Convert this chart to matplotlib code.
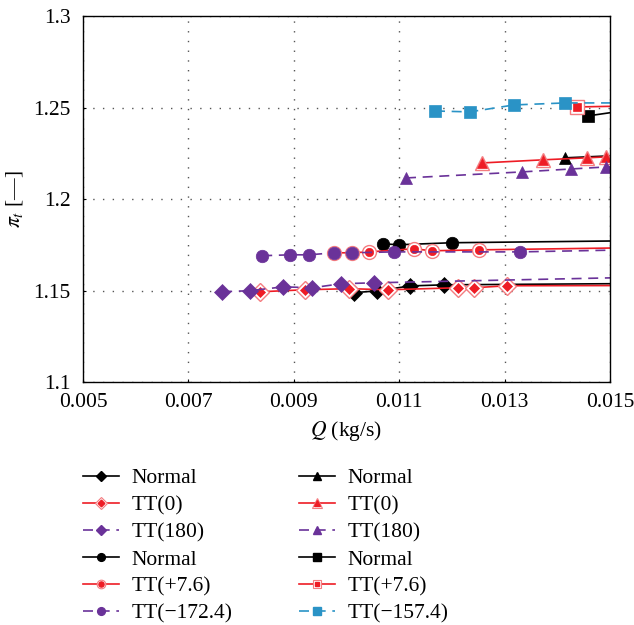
import matplotlib
matplotlib.use("Agg")
import matplotlib.pyplot as plt
from matplotlib.legend_handler import HandlerTuple

plt.rcParams['font.family'] = ['Liberation Serif', 'DejaVu Serif']
plt.rcParams['mathtext.fontset'] = 'stix'

# ---- data (Q in kg/s, pi_t) ----
# diamond group
q_norm_d = [0.01014, 0.01058, 0.01121, 0.01185, 0.0155]
p_norm_d = [1.1488, 1.1498, 1.1525, 1.1531, 1.1538]
q_tt0_d = [0.00836, 0.00921, 0.01005, 0.01079, 0.01212, 0.01242, 0.01305, 0.0155]
p_tt0_d = [1.1493, 1.1504, 1.1510, 1.1504, 1.1515, 1.1515, 1.1526, 1.1527]
q_tt180_d = [0.00764, 0.00817, 0.00880, 0.00935, 0.00990, 0.01052, 0.0155]
p_tt180_d = [1.1493, 1.1499, 1.1520, 1.1515, 1.1537, 1.1542, 1.1572]
# circle group
q_norm_c = [0.01069, 0.01100, 0.01200, 0.0155]
p_norm_c = [1.1755, 1.1750, 1.1761, 1.1772]
q_tt76_c = [0.00976, 0.01010, 0.01043, 0.01128, 0.01162, 0.01251, 0.0155]
p_tt76_c = [1.1706, 1.1706, 1.1711, 1.1728, 1.1717, 1.1722, 1.1734]
q_tt172_c = [0.00840, 0.00893, 0.00929, 0.00976, 0.01010, 0.01090, 0.01329, 0.0155]
p_tt172_c = [1.1690, 1.1695, 1.1695, 1.1706, 1.1706, 1.1711, 1.1711, 1.1723]
# triangle group
q_norm_t = [0.01415, 0.0155]
p_norm_t = [1.2225, 1.2242]
q_tt0_t = [0.01257, 0.01373, 0.01456, 0.01492, 0.0155]
p_tt0_t = [1.2197, 1.2214, 1.2225, 1.2230, 1.2232]
q_tt180_t = [0.01113, 0.01333, 0.01426, 0.01492, 0.0155]
p_tt180_t = [1.2115, 1.2148, 1.2164, 1.2175, 1.2176]
# square group
q_norm_s = [0.01458, 0.0155]
p_norm_s = [1.2454, 1.2492]
q_tt76_s = [0.01437, 0.0155]
p_tt76_s = [1.2503, 1.2509]
q_tt157_s = [0.01168, 0.01234, 0.01318, 0.01415, 0.0155]
p_tt157_s = [1.2481, 1.2476, 1.2514, 1.2525, 1.2525]

labels = ['Normal', 'TT(0)', 'TT(180)', 'Normal', 'TT(+7.6)', 'TT(\u2212172.4)',
          'Normal', 'TT(0)', 'TT(180)', 'Normal', 'TT(+7.6)', 'TT(\u2212157.4)']

BLACK = '#000000'
RED = '#ee1c25'
PINK = '#f47c80'
PURPLE = '#6a3299'
BLUE = '#2a93c6'
FS = 15.5

fig = plt.figure(figsize=(6.34, 6.25), dpi=100)
ax = fig.add_axes([0.131, 0.3888, 0.831, 0.5856])

dash = (0, (6, 4))
handles = []

def plain(q, p, marker, color, ls='-', ms=8):
    ax.plot(q, p, color=color, linestyle=ls, lw=1.2, marker=marker, ms=ms,
            mfc=color, mec=color, mew=0.5)
    h, = ax.plot([], [], color=color, linestyle=ls, lw=1.2, marker=marker,
                 ms=ms * 0.62, mfc=color, mec=color)
    return h

def double(q, p, marker, ms=8):
    ax.plot(q, p, color=RED, linestyle='-', lw=1.2, marker=marker, ms=ms + 1.5,
            mfc='white', mec=PINK, mew=1.0)
    ax.plot(q, p, linestyle='none', marker=marker, ms=ms - 2.5, mfc=RED,
            mec=RED, mew=0.5)
    h1, = ax.plot([], [], color=RED, linestyle='-', lw=1.2, marker=marker,
                  ms=(ms + 1.5) * 0.62, mfc='white', mec=PINK, mew=0.8)
    h2, = ax.plot([], [], linestyle='none', marker=marker,
                  ms=(ms - 2.5) * 0.62, mfc=RED, mec=RED)
    return (h1, h2)

handles.append(plain(q_norm_d, p_norm_d, 'D', BLACK, ms=8))
handles.append(double(q_tt0_d, p_tt0_d, 'D', ms=8))
handles.append(plain(q_tt180_d, p_tt180_d, 'D', PURPLE, ls=dash, ms=8))
handles.append(plain(q_norm_c, p_norm_c, 'o', BLACK, ms=9))
handles.append(double(q_tt76_c, p_tt76_c, 'o', ms=8.5))
handles.append(plain(q_tt172_c, p_tt172_c, 'o', PURPLE, ls=dash, ms=9))
handles.append(plain(q_norm_t, p_norm_t, '^', BLACK, ms=9))
handles.append(double(q_tt0_t, p_tt0_t, '^', ms=9))
handles.append(plain(q_tt180_t, p_tt180_t, '^', PURPLE, ls=dash, ms=9))
handles.append(plain(q_norm_s, p_norm_s, 's', BLACK, ms=8.5))
handles.append(double(q_tt76_s, p_tt76_s, 's', ms=8))
handles.append(plain(q_tt157_s, p_tt157_s, 's', BLUE, ls=dash, ms=8.5))

ax.set_xlim(0.005, 0.015)
ax.set_ylim(1.1, 1.3)
ax.set_xticks([0.005, 0.007, 0.009, 0.011, 0.013, 0.015])
ax.set_xticklabels(['0.005', '0.007', '0.009', '0.011', '0.013', '0.015'])
ax.set_yticks([1.1, 1.15, 1.2, 1.25, 1.3])
ax.set_yticklabels(['1.1', '1.15', '1.2', '1.25', '1.3'])
ax.tick_params(direction='in', length=2, labelsize=FS, width=0.8)
ax.tick_params(axis='y', pad=9)
ax.tick_params(axis='x', pad=8)
ax.grid(True, linestyle=(0, (1, 6)), color='#555555', lw=1.0)
for s in ax.spines.values():
    s.set_linewidth(1.0)

ax.set_xlabel(r'$Q$ (kg/s)', fontsize=FS, labelpad=5)
ax.set_ylabel(r'$\pi_t$ [—]', fontsize=FS, labelpad=6)

common = dict(loc='upper left', frameon=False, fontsize=FS, handlelength=1.65,
              handletextpad=0.6, labelspacing=0.33, borderpad=0,
              borderaxespad=0, handler_map={tuple: HandlerTuple(ndivide=1)})
leg1 = fig.legend(handles[:6], labels[:6], bbox_to_anchor=(83 / 634, 1 - 468 / 625),
                  **common)
leg2 = fig.legend(handles[6:], labels[6:], bbox_to_anchor=(299 / 634, 1 - 468 / 625),
                  **common)

fig.savefig('out.png', dpi=100)
